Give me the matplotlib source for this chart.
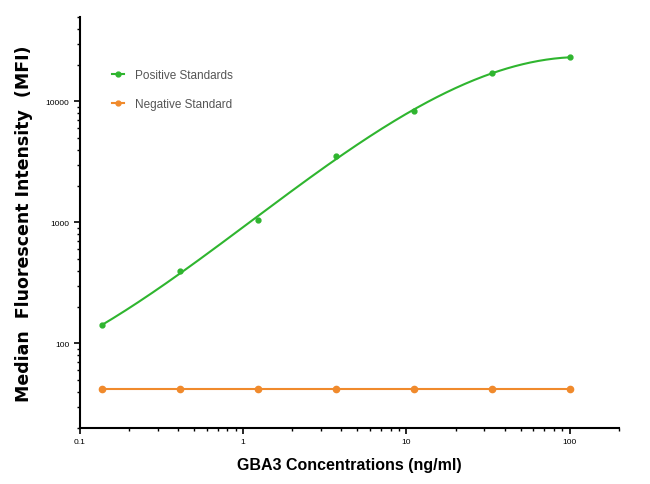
import numpy as np
import matplotlib
matplotlib.use("Agg")
import matplotlib.pyplot as plt
from matplotlib.ticker import LogLocator, FixedLocator, NullFormatter

plt.rcParams["font.family"] = ["Liberation Sans", "DejaVu Sans"]

conc = [0.137, 0.41, 1.23, 3.7, 11.1, 33.3, 100]
positive = [141, 398, 1040, 3550, 8400, 17100, 23200]
negative = [42, 42, 42, 42, 42, 42, 42]
x_ticks = [0.1, 1, 10, 100]
x_tick_labels = ["0.1", "1", "10", "100"]
y_ticks = [100, 1000, 10000]
y_tick_labels = ["100", "1000", "10000"]

green = "#2fb52f"
orange = "#f08a2c"

fig = plt.figure(figsize=(6.5, 4.85), dpi=100)
ax = fig.add_axes([0.123, 0.1155, 0.829, 0.8475])

# smooth fit line in log-log space
lx = np.log10(conc)
ly = np.log10(positive)
coef = np.polyfit(lx, ly, 3)
xs = np.linspace(lx[0], lx[-1], 300)
ax.plot(10**xs, 10**np.polyval(coef, xs), color=green, lw=1.5)
ax.plot(conc, positive, "o", color=green, ms=3.5)
ax.plot(conc, negative, "-o", color=orange, lw=1.5, ms=4.5)

ax.set_xscale("log")
ax.set_yscale("log")
ax.set_xlim(0.1, 200)
ax.set_ylim(20, 50000)

for s in ["top", "right"]:
    ax.spines[s].set_visible(False)
for s in ["left", "bottom"]:
    ax.spines[s].set_linewidth(1.5)

ax.xaxis.set_major_locator(FixedLocator(x_ticks))
ax.set_xticklabels(x_tick_labels)
ax.xaxis.set_minor_locator(LogLocator(base=10, subs=np.arange(2, 10)))
ax.xaxis.set_minor_formatter(NullFormatter())
ax.yaxis.set_major_locator(FixedLocator(y_ticks))
ax.set_yticklabels(y_tick_labels)
ax.yaxis.set_minor_locator(LogLocator(base=10, subs=np.arange(2, 10)))
ax.yaxis.set_minor_formatter(NullFormatter())
ax.tick_params(which="major", length=4, width=1.2, labelsize=6)
ax.tick_params(which="minor", length=2.5, width=1.0)

ax.set_xlabel("GBA3 Concentrations (ng/ml)", fontsize=11.5, fontweight="bold", labelpad=8)
ax.set_ylabel("Median  Fluorescent Intensity  (MFI)", fontsize=12.5, fontweight="bold",
              family=["DejaVu Sans"])
ax.yaxis.set_label_coords(-0.087, 0.5)

# legend
lh = [plt.Line2D([], [], color=green, marker="o", ms=3.5, lw=1.5),
      plt.Line2D([], [], color=orange, marker="o", ms=3.5, lw=1.5)]
leg = ax.legend(lh, ["Positive Standards", "Negative Standard"], loc="upper left",
                bbox_to_anchor=(0.04, 0.9), frameon=False, fontsize=8.5,
                handlelength=1.0, handletextpad=0.9, labelspacing=1.5,
                labelcolor="#555555")

fig.savefig("out.png", dpi=100)
